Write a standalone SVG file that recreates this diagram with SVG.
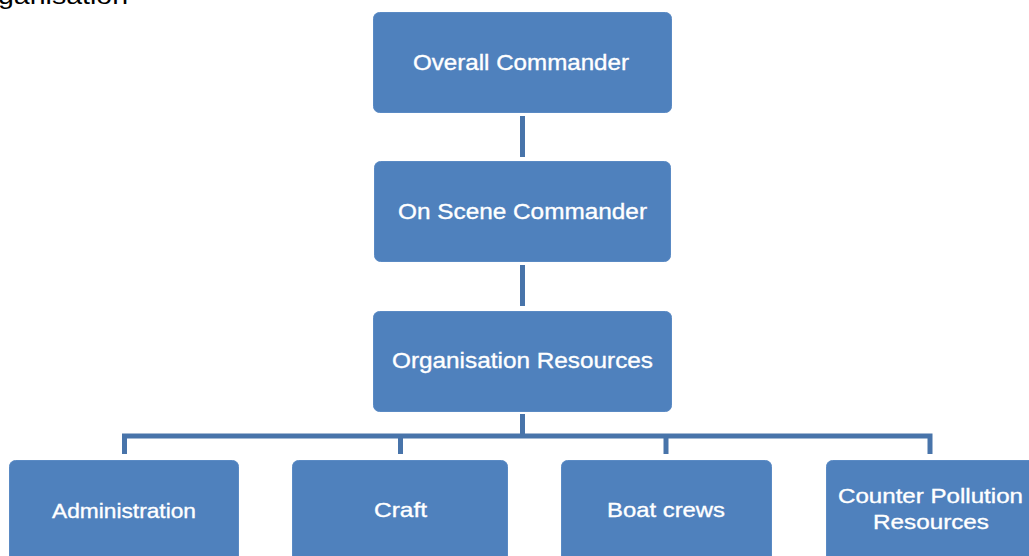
<svg xmlns="http://www.w3.org/2000/svg" width="1029" height="556" viewBox="0 0 1029 556">
<style>
.box{fill:#4F81BD;stroke:#5A8AC4;stroke-width:1}
.lbl{fill:#FFFFFF;stroke:#FFFFFF;stroke-width:0.35;font-family:"Liberation Sans",Arial,sans-serif;font-size:22px;text-anchor:middle}
.sm{font-size:21px}
.con{fill:none;stroke:#4874AA;stroke-width:5}
</style>
<rect width="1029" height="556" fill="#FFFFFF"/>
<text x="-2" y="4" font-family="Liberation Sans,Arial,sans-serif" font-size="24" fill="#000000" textLength="130" lengthAdjust="spacingAndGlyphs">ganisation</text>
<g id="connectors">
<line class="con" x1="522.5" y1="116" x2="522.5" y2="157"/>
<line class="con" x1="522.5" y1="265" x2="522.5" y2="306"/>
<line class="con" x1="522.5" y1="414" x2="522.5" y2="436"/>
<polyline class="con" points="124.5,454 124.5,436 930,436 930,454"/>
<line class="con" x1="400.5" y1="436" x2="400.5" y2="454"/>
<line class="con" x1="666" y1="436" x2="666" y2="454"/>
</g>
<g id="overall-commander">
<rect class="box" x="373.5" y="12.5" width="298" height="100" rx="6"/>
<text class="lbl" x="521" y="70" textLength="216" lengthAdjust="spacingAndGlyphs">Overall Commander</text>
</g>
<g id="on-scene-commander">
<rect class="box" x="374.5" y="161.5" width="296" height="100" rx="6"/>
<text class="lbl" x="522.5" y="219" textLength="249" lengthAdjust="spacingAndGlyphs">On Scene Commander</text>
</g>
<g id="organisation-resources">
<rect class="box" x="373.5" y="311.5" width="298" height="100" rx="6"/>
<text class="lbl" x="522.5" y="368" textLength="261" lengthAdjust="spacingAndGlyphs">Organisation Resources</text>
</g>
<g id="administration">
<rect class="box" x="9.5" y="460.5" width="229" height="110" rx="6"/>
<text class="lbl sm" x="124" y="517.5" textLength="144" lengthAdjust="spacingAndGlyphs">Administration</text>
</g>
<g id="craft">
<rect class="box" x="292.5" y="460.5" width="215" height="110" rx="6"/>
<text class="lbl sm" x="400.5" y="517" textLength="53" lengthAdjust="spacingAndGlyphs">Craft</text>
</g>
<g id="boat-crews">
<rect class="box" x="561.5" y="460.5" width="210" height="110" rx="6"/>
<text class="lbl sm" x="666" y="517" textLength="118" lengthAdjust="spacingAndGlyphs">Boat crews</text>
</g>
<g id="counter-pollution-resources">
<rect class="box" x="826.5" y="460.5" width="220" height="110" rx="6"/>
<text class="lbl sm" x="930.5" y="503" textLength="185" lengthAdjust="spacingAndGlyphs">Counter Pollution</text>
<text class="lbl sm" x="931" y="529" textLength="116" lengthAdjust="spacingAndGlyphs">Resources</text>
</g>
</svg>
